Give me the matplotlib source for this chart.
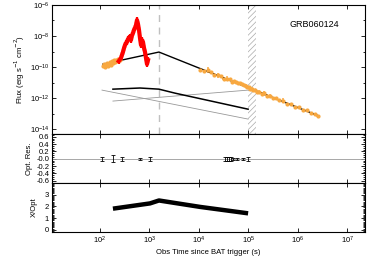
import numpy as np
import matplotlib
matplotlib.use("Agg")
import matplotlib.pyplot as plt
from matplotlib.ticker import FixedLocator, FixedFormatter, MultipleLocator, LogFormatterSciNotation, NullFormatter

plt.rcParams['font.family'] = ['Liberation Sans', 'DejaVu Sans']
plt.rcParams['font.size'] = 5.5
plt.rcParams['hatch.linewidth'] = 0.5
plt.rcParams['hatch.color'] = '#aaaaaa'

# ---- data ----
# early optical (orange) points: time (s), log10 flux
opt_early_t = [115, 120, 126, 132, 139, 145, 152, 159, 167, 175, 183, 192, 201, 211, 221, 231, 254]
opt_early_lf = [-9.94, -9.81, -10.0, -9.87, -9.74, -9.94, -9.81, -9.68, -9.87, -9.61,
                -9.74, -9.55, -9.68, -9.55, -9.61, -9.48, -9.55]

# red flare
flare_t = [240, 255, 266, 280, 292, 305, 321, 336, 352, 368, 386, 405, 424, 445, 466, 488,
           511, 536, 561, 588, 616, 645, 676, 708, 742, 778, 815, 853, 894, 937]
flare_lf = [-9.62, -9.50, -9.42, -9.20, -9.03, -8.80, -8.58, -8.45, -8.39, -8.20, -8.13,
            -8.05, -8.26, -7.95, -7.81, -7.60, -7.48, -7.29, -6.97, -7.23, -7.61, -8.13,
            -8.58, -8.26, -8.39, -8.77, -9.03, -9.42, -9.81, -9.55]

# late optical (orange) points
opt_late_logt = [4.02, 4.10, 4.18, 4.24, 4.30, 4.38, 4.44, 4.50, 4.56, 4.62, 4.68, 4.72, 4.76,
                 4.80, 4.84, 4.88, 4.92, 4.95, 4.98, 5.01, 5.04, 5.07, 5.10, 5.14, 5.18, 5.22,
                 5.27, 5.32, 5.38, 5.44, 5.50, 5.56, 5.63, 5.70, 5.78, 5.86, 5.94, 6.02, 6.10,
                 6.18, 6.26, 6.34, 6.40]
opt_late_lf = [-10.20, -10.23, -10.18, -10.31, -10.51, -10.54, -10.55, -10.74, -10.74, -10.76,
               -10.94, -10.92, -10.95, -11.03, -11.04, -11.11, -11.17, -11.19, -11.28, -11.31,
               -11.39, -11.39, -11.48, -11.49, -11.59, -11.58, -11.70, -11.69, -11.83, -11.83,
               -12.00, -11.98, -12.12, -12.16, -12.36, -12.39, -12.55, -12.60, -12.76, -12.79,
               -12.94, -13.02, -13.12]
opt_late_err = [0.08, 0.07, 0.20, 0.08, 0.10, 0.14, 0.07, 0.09, 0.16, 0.08, 0.07, 0.10, 0.08,
                0.09, 0.07, 0.08, 0.07, 0.08, 0.07, 0.06, 0.07, 0.08, 0.06, 0.07, 0.06, 0.08,
                0.07, 0.14, 0.07, 0.10, 0.07, 0.08, 0.07, 0.16, 0.07, 0.08, 0.07, 0.06, 0.07,
                0.06, 0.07, 0.06, 0.05]

# model curves
model_t = [115, 1560, 2.47e6]
model_f = [1.55e-10, 9.3e-10, 7.9e-14]
optmod_t = [183, 645, 1560, 3300, 9.9e4]
optmod_f = [3.8e-12, 4.5e-12, 3.8e-12, 2.1e-12, 1.95e-13]
comp1_t = [110, 9.9e4]
comp1_f = [3.3e-12, 4.5e-14]
comp2_t = [183, 9.9e4]
comp2_f = [6.5e-13, 3.3e-12]

t_dash = 1560
hatch_t = [1.0e5, 1.45e5]

# residuals
res_t = [110, 183, 279, 645, 1028, 3.39e4, 3.72e4, 4.08e4, 4.48e4, 4.92e4, 5.93e4, 7.85e4, 9.9e4]
res_v = [0.0, 0.0, 0.0, 0.0, 0.0, 0.0, 0.0, 0.0, 0.0, -0.01, -0.01, -0.01, 0.0]
res_e = [0.05, 0.09, 0.05, 0.03, 0.05, 0.05, 0.05, 0.05, 0.05, 0.03, 0.03, 0.03, 0.05]

# X/Opt ratio
ratio_t = [183, 1028, 1560, 1.06e4, 9.9e4]
ratio_v = [1.8, 2.25, 2.5, 1.95, 1.4]

xticks = [1e2, 1e3, 1e4, 1e5, 1e6, 1e7]
orange = '#f8a840'

fig = plt.figure(figsize=(3.74, 2.61), dpi=100)
ax1 = fig.add_axes([0.139, 0.487, 0.837, 0.494])
ax2 = fig.add_axes([0.139, 0.299, 0.837, 0.188], sharex=ax1)
ax3 = fig.add_axes([0.139, 0.111, 0.837, 0.188], sharex=ax1)

# top panel
ax1.axvspan(hatch_t[0], hatch_t[1], facecolor='white', edgecolor='#aaaaaa', hatch='//////', lw=0, zorder=0)
ax1.axvline(t_dash, color='#c0c0c0', ls=(0, (5, 4)), lw=1.0, zorder=0)

f = 10 ** np.array(opt_early_lf)
ax1.errorbar(opt_early_t, f, yerr=[f - f * 10 ** -0.08, f * 10 ** 0.08 - f], fmt='o', ms=2.0,
             color=orange, ecolor=orange, elinewidth=1.0, capsize=0)

f = 10 ** np.array(flare_lf)
ax1.errorbar(flare_t, f, yerr=[f - f * 10 ** -0.18, f * 10 ** 0.18 - f], fmt='-', lw=3.0,
             color='red', ecolor='red', elinewidth=1.6, capsize=0)

t = 10 ** np.array(opt_late_logt)
f = 10 ** np.array(opt_late_lf)
e = np.array(opt_late_err)
ax1.errorbar(t, f, yerr=[f - f * 10 ** -e, f * 10 ** e - f], xerr=[t * 0.05, t * 0.05], fmt='o', ms=2.0,
             color=orange, ecolor=orange, elinewidth=1.1, capsize=0)

ax1.plot(comp1_t, comp1_f, color='#999999', lw=0.6)
ax1.plot(comp2_t, comp2_f, color='#999999', lw=0.6)
ax1.plot(optmod_t, optmod_f, color='black', lw=1.1)
ax1.plot(model_t, model_f, color='black', lw=1.0)

ax1.set_xscale('log')
ax1.set_yscale('log')
ax1.set_xlim(10 ** 1.03, 10 ** 7.36)
ax1.set_ylim(10 ** -14.3, 1e-6)
ax1.yaxis.set_major_locator(FixedLocator([1e-14, 1e-12, 1e-10, 1e-8, 1e-6]))
ax1.yaxis.set_minor_locator(FixedLocator([1e-13, 1e-11, 1e-9, 1e-7]))
ax1.yaxis.set_minor_formatter(NullFormatter())
ax1.set_ylabel('Flux (erg s$^{-1}$ cm$^{-2}$)', labelpad=2)
ax1.text(0.76, 0.845, 'GRB060124', transform=ax1.transAxes, fontsize=6.5, va='center')
plt.setp(ax1.get_xticklabels(), visible=False)

# residual panel
ax2.axhline(0, color='#999999', lw=0.6)
ax2.errorbar(res_t, res_v, yerr=res_e, fmt='none', ecolor='black', elinewidth=0.6, capsize=1.2, capthick=0.6)
ax2.set_ylim(-0.66, 0.68)
ax2.yaxis.set_major_locator(FixedLocator([0.6, 0.4, 0.2, 0.0, -0.2, -0.4, -0.6]))
ax2.yaxis.set_major_formatter(FixedFormatter(['0.6', '0.4', '0.2', '-0.0', '-0.2', '-0.4', '-0.6']))
ax2.yaxis.set_minor_locator(MultipleLocator(0.05))
ax2.set_ylabel('Opt. Res.', labelpad=2)
plt.setp(ax2.get_xticklabels(), visible=False)

# ratio panel
ax3.plot(ratio_t, ratio_v, color='black', lw=3.2, solid_capstyle='butt')
ax3.set_ylim(-0.2, 4.0)
ax3.yaxis.set_major_locator(FixedLocator([0, 1, 2, 3]))
ax3.yaxis.set_minor_locator(MultipleLocator(0.1))
ax3.set_ylabel('X/Opt', labelpad=5)
ax3.set_xlabel('Obs Time since BAT trigger (s)', labelpad=2)

for ax in (ax1, ax2, ax3):
    ax.xaxis.set_major_locator(FixedLocator(xticks))
    ax.xaxis.set_major_formatter(LogFormatterSciNotation())
    ax.xaxis.set_minor_locator(FixedLocator([]))
    ax.tick_params(which='both', direction='in', top=True, right=True, width=0.6, pad=2)
    ax.tick_params(which='major', length=3)
    ax.tick_params(which='minor', length=1.5)
    for s in ax.spines.values():
        s.set_linewidth(0.8)
plt.setp(ax1.get_xticklabels(), visible=False)
plt.setp(ax2.get_xticklabels(), visible=False)

fig.align_ylabels([ax1, ax2, ax3])
fig.savefig('out.png', dpi=100)
